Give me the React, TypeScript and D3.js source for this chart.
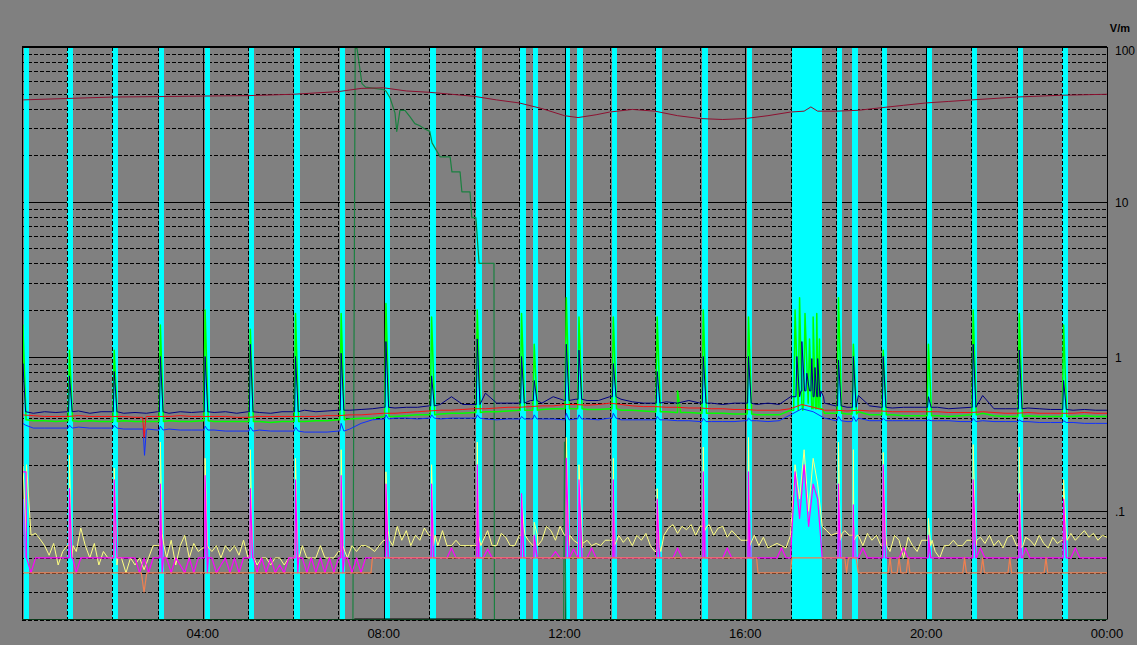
import React from 'react';
import * as d3 from 'd3';

// ---------------- DATA ----------------
// time in hours (0..24), field strength in V/m (log scale)
const yTickValues = [100, 10, 1, 0.1];
const yTickLabels = ['100', '10', '1', '.1'];
const xTickHours = [4, 8, 12, 16, 20, 24];
const xTickLabels = ['04:00', '08:00', '12:00', '16:00', '20:00', '00:00'];
const unitLabel = 'V/m';

// cyan event intervals [start, end] in hours
const cyanIntervals: [number, number][] = [
  [0.04, 0.155], [0.99, 1.13], [1.99, 2.12], [3.03, 3.14], [4.04, 4.16], [5.02, 5.13],
  [6.02, 6.15], [7.03, 7.14], [8.01, 8.14], [9.02, 9.16], [10.04, 10.17], [11.02, 11.15],
  [11.3, 11.41], [12.01, 12.12], [12.28, 12.41], [13.05, 13.16], [14.02, 14.16], [15.04, 15.17],
  [16.04, 16.15], [17.03, 17.7], [18.03, 18.14], [18.36, 18.49], [19.02, 19.13], [20.02, 20.13],
  [21.01, 21.12], [22.03, 22.14], [23.0, 23.14],
];

// hourly event times and peaks per series
const eventTimes = [0.02, 1.05, 2.04, 3.06, 4.05, 5.05, 6.05, 7.06, 8.05, 9.06, 10.07, 11.05, 11.33,
  12.04, 12.32, 13.08, 14.05, 15.07, 16.07, 18.06, 18.39, 19.05, 20.05, 21.04, 22.06, 23.04];
const greenPeaks = [1.6, 1.1, 1.1, 1.6, 2.0, 1.5, 1.9, 1.9, 2.2, 1.8, 2.0, 1.9, 1.2,
  2.4, 1.8, 1.8, 1.8, 2.0, 1.8, 2.4, 1.2, 1.1, 1.2, 2.0, 1.9, 1.6];
const navyPeaks = [0.9, 0.75, 0.8, 1.0, 1.0, 1.2, 1.0, 1.05, 1.25, 0.75, 1.3, 1.0, 0.7,
  1.2, 1.1, 0.9, 0.8, 1.0, 1.0, 0.95, 1.0, 1.0, 0.55, 1.2, 1.1, 0.7];
const blueBumps = [0.37, 0.36, 0.36, 0.355, 0.355, 0.35, 0.35, 0.37, 0.42, 0.42, 0.42, 0.41, 0.42,
  0.43, 0.42, 0.43, 0.41, 0.4, 0.4, 0.41, 0.41, 0.4, 0.39, 0.4, 0.39, 0.385];
const yellowPeaks = [0.2, 0.23, 0.19, 0.28, 0.22, 0.25, 0.22, 0.25, 0.18, 0.2, 0.28, 0.13, 0.085,
  0.3, 0.2, 0.22, 0.14, 0.26, 0.3, 0.28, 0.25, 0.24, 0.09, 0.27, 0.26, 0.16];
const magentaPeaks = [0.18, 0.14, 0.16, 0.15, 0.17, 0.14, 0.16, 0.17, 0.15, 0.15, 0.2, 0.13, 0.07,
  0.22, 0.16, 0.16, 0.12, 0.18, 0.18, 0.15, 0.11, 0.2, 0.07, 0.16, 0.13, 0.12];
const violetPeaks = [0.12, 0.1, 0.11, 0.1, 0.12, 0.1, 0.11, 0.12, 0.1, 0.11, 0.12, 0.09, 0.06,
  0.13, 0.11, 0.1, 0.09, 0.12, 0.12, 0.11, 0.08, 0.12, 0.06, 0.11, 0.1, 0.09];

// burst 17:00-17:40
const greenBurst: [number, number][] = [[17.1, 2.0], [17.2, 2.4], [17.32, 1.9], [17.42, 1.3], [17.5, 1.8], [17.58, 1.9], [17.64, 1.3], [14.5, 0.6]];
const navyBurst: [number, number][] = [[17.14, 1.0], [17.25, 1.25], [17.36, 0.78], [17.47, 0.97], [17.54, 0.85], [17.6, 0.97], [17.67, 0.6]];
const redDips: [number, number][] = [[2.7, 0.3]];
const blueDips: [number, number][] = [[2.71, 0.23]];

// quarter-hour baselines (97 values, 0..24 h)
const navyGrid = [
  0.44, 0.43, 0.44, 0.435, 0.44, 0.445, 0.43, 0.44, 0.44, 0.43, 0.435, 0.43,
  0.44, 0.43, 0.44, 0.435, 0.44, 0.435, 0.44, 0.43, 0.44, 0.435, 0.43, 0.44,
  0.44, 0.45, 0.44, 0.445, 0.45, 0.45, 0.455, 0.46, 0.47, 0.465, 0.47, 0.47,
  0.48, 0.49, 0.55, 0.49, 0.49, 0.58, 0.5, 0.5, 0.5, 0.52, 0.5, 0.55,
  0.52, 0.53, 0.52, 0.52, 0.55, 0.53, 0.51, 0.5, 0.5, 0.51, 0.5, 0.52,
  0.5, 0.5, 0.49, 0.5, 0.5, 0.49, 0.5, 0.49, 0.55, 0.6, 0.55, 0.5,
  0.48, 0.47, 0.56, 0.48, 0.47, 0.465, 0.47, 0.47, 0.47, 0.47, 0.46, 0.465,
  0.47, 0.56, 0.46, 0.46, 0.46, 0.465, 0.46, 0.455, 0.455, 0.45, 0.455, 0.45,
  0.45,
];
const redGrid = [
  0.42, 0.415, 0.41, 0.41, 0.41, 0.415, 0.41, 0.41, 0.41, 0.41, 0.405, 0.41,
  0.41, 0.41, 0.415, 0.41, 0.41, 0.41, 0.41, 0.405, 0.405, 0.41, 0.41, 0.41,
  0.41, 0.41, 0.41, 0.415, 0.415, 0.42, 0.42, 0.425, 0.43, 0.43, 0.435, 0.44,
  0.445, 0.45, 0.45, 0.455, 0.46, 0.46, 0.465, 0.47, 0.47, 0.475, 0.48, 0.48,
  0.49, 0.49, 0.485, 0.49, 0.5, 0.49, 0.48, 0.475, 0.475, 0.47, 0.47, 0.465,
  0.465, 0.46, 0.46, 0.455, 0.455, 0.45, 0.45, 0.45, 0.46, 0.49, 0.47, 0.45,
  0.45, 0.445, 0.45, 0.445, 0.445, 0.44, 0.44, 0.44, 0.44, 0.44, 0.435, 0.435,
  0.435, 0.44, 0.435, 0.43, 0.43, 0.435, 0.43, 0.43, 0.43, 0.43, 0.435, 0.43,
  0.43,
];
const greenGrid = [
  0.39, 0.385, 0.385, 0.38, 0.385, 0.38, 0.385, 0.38, 0.38, 0.385, 0.38, 0.38,
  0.38, 0.385, 0.38, 0.38, 0.385, 0.38, 0.38, 0.38, 0.38, 0.38, 0.375, 0.38,
  0.38, 0.38, 0.385, 0.385, 0.39, 0.395, 0.4, 0.4, 0.41, 0.41, 0.415, 0.42,
  0.42, 0.425, 0.43, 0.43, 0.435, 0.44, 0.44, 0.445, 0.45, 0.45, 0.455, 0.46,
  0.46, 0.46, 0.455, 0.455, 0.46, 0.45, 0.45, 0.445, 0.44, 0.44, 0.435, 0.435,
  0.43, 0.43, 0.43, 0.425, 0.425, 0.42, 0.42, 0.42, 0.45, 0.5, 0.46, 0.43,
  0.43, 0.425, 0.44, 0.42, 0.42, 0.42, 0.415, 0.415, 0.415, 0.415, 0.41, 0.415,
  0.42, 0.43, 0.415, 0.41, 0.41, 0.415, 0.41, 0.41, 0.41, 0.41, 0.415, 0.41,
  0.41,
];
const blueGrid = [
  0.36, 0.345, 0.345, 0.345, 0.345, 0.35, 0.345, 0.345, 0.345, 0.34, 0.34, 0.335,
  0.335, 0.34, 0.335, 0.335, 0.335, 0.335, 0.33, 0.33, 0.33, 0.335, 0.33, 0.33,
  0.33, 0.325, 0.325, 0.325, 0.33, 0.34, 0.37, 0.39, 0.395, 0.4, 0.4, 0.395,
  0.4, 0.395, 0.4, 0.4, 0.4, 0.395, 0.39, 0.395, 0.395, 0.395, 0.395, 0.395,
  0.39, 0.395, 0.395, 0.39, 0.4, 0.39, 0.39, 0.39, 0.39, 0.39, 0.385, 0.385,
  0.38, 0.38, 0.38, 0.38, 0.385, 0.385, 0.38, 0.385, 0.42, 0.46, 0.44, 0.4,
  0.385, 0.38, 0.4, 0.385, 0.385, 0.385, 0.385, 0.385, 0.385, 0.385, 0.385, 0.38,
  0.38, 0.385, 0.38, 0.38, 0.38, 0.38, 0.375, 0.375, 0.375, 0.375, 0.37, 0.37,
  0.37,
];

// six-minute baselines (241 values)
const yellowGrid = [
  0.2, 0.066, 0.07, 0.072, 0.066, 0.06, 0.052, 0.062, 0.045, 0.055,
  0.06, 0.05, 0.055, 0.078, 0.06, 0.05, 0.062, 0.045, 0.055, 0.05,
  0.05, 0.045, 0.05, 0.04, 0.05, 0.045, 0.05, 0.042, 0.05, 0.06,
  0.06, 0.072, 0.05, 0.065, 0.045, 0.06, 0.07, 0.05, 0.062, 0.055,
  0.058, 0.06, 0.055, 0.06, 0.05, 0.06, 0.055, 0.06, 0.052, 0.065,
  0.05, 0.05, 0.045, 0.05, 0.05, 0.045, 0.05, 0.05, 0.045, 0.05,
  0.05, 0.05, 0.06, 0.05, 0.05, 0.05, 0.06, 0.05, 0.05, 0.05,
  0.055, 0.06, 0.05, 0.06, 0.055, 0.06, 0.06, 0.058, 0.055, 0.06,
  0.065, 0.075, 0.06, 0.08, 0.065, 0.075, 0.06, 0.07, 0.065, 0.078,
  0.07, 0.06, 0.06, 0.075, 0.06, 0.06, 0.065, 0.06, 0.06, 0.06,
  0.06, 0.07, 0.065, 0.075, 0.06, 0.06, 0.072, 0.068, 0.06, 0.06,
  0.07, 0.08, 0.065, 0.06, 0.07, 0.065, 0.08, 0.075, 0.065, 0.08,
  0.07, 0.06, 0.065, 0.062, 0.058, 0.065, 0.06, 0.062, 0.06, 0.065,
  0.065, 0.06, 0.07, 0.063, 0.068, 0.06, 0.07, 0.065, 0.072, 0.06,
  0.055, 0.06, 0.07, 0.078, 0.082, 0.072, 0.08, 0.076, 0.082, 0.07,
  0.08, 0.075, 0.082, 0.07, 0.078, 0.08, 0.068, 0.075, 0.07, 0.065,
  0.065, 0.06, 0.07, 0.06, 0.068, 0.058, 0.06, 0.062, 0.06, 0.058,
  0.07, 0.2, 0.12, 0.25, 0.1, 0.22, 0.15, 0.08, 0.075, 0.07,
  0.072, 0.065, 0.075, 0.07, 0.065, 0.07, 0.06, 0.072, 0.065, 0.07,
  0.06, 0.072, 0.055, 0.07, 0.065, 0.05, 0.068, 0.06, 0.055, 0.065,
  0.065, 0.06, 0.055, 0.05, 0.06, 0.06, 0.065, 0.06, 0.06, 0.065,
  0.065, 0.06, 0.068, 0.062, 0.07, 0.06, 0.065, 0.058, 0.068, 0.07,
  0.06, 0.058, 0.068, 0.065, 0.06, 0.07, 0.062, 0.058, 0.068, 0.062,
  0.065, 0.07, 0.072, 0.065, 0.07, 0.075, 0.068, 0.072, 0.065, 0.07,
  0.068,
];
const magentaGrid = [
  0.18, 0.05, 0.04, 0.05, 0.05, 0.05, 0.05, 0.05, 0.05, 0.05,
  0.05, 0.05, 0.04, 0.05, 0.05, 0.05, 0.05, 0.05, 0.05, 0.05,
  0.05, 0.05, 0.05, 0.05, 0.05, 0.05, 0.04, 0.05, 0.04, 0.05,
  0.05, 0.04, 0.05, 0.04, 0.05, 0.045, 0.04, 0.05, 0.04, 0.05,
  0.05, 0.04, 0.05, 0.04, 0.045, 0.05, 0.04, 0.05, 0.04, 0.05,
  0.05, 0.05, 0.04, 0.05, 0.04, 0.05, 0.04, 0.045, 0.04, 0.05,
  0.05, 0.04, 0.05, 0.04, 0.05, 0.04, 0.05, 0.04, 0.05, 0.04,
  0.05, 0.04, 0.05, 0.04, 0.05, 0.04, 0.05, 0.05, 0.05, 0.05,
  0.05, 0.05, 0.05, 0.05, 0.05, 0.05, 0.05, 0.05, 0.05, 0.05,
  0.05, 0.05, 0.05, 0.05, 0.05, 0.058, 0.05, 0.05, 0.05, 0.05,
  0.05, 0.05, 0.05, 0.057, 0.05, 0.05, 0.05, 0.05, 0.05, 0.05,
  0.05, 0.05, 0.05, 0.05, 0.05, 0.05, 0.05, 0.05, 0.055, 0.05,
  0.05, 0.05, 0.057, 0.05, 0.05, 0.05, 0.058, 0.05, 0.05, 0.05,
  0.05, 0.05, 0.05, 0.05, 0.05, 0.05, 0.05, 0.05, 0.05, 0.05,
  0.05, 0.05, 0.05, 0.05, 0.05, 0.058, 0.05, 0.05, 0.05, 0.05,
  0.05, 0.05, 0.05, 0.05, 0.05, 0.05, 0.058, 0.05, 0.05, 0.05,
  0.05, 0.05, 0.05, 0.05, 0.05, 0.05, 0.05, 0.05, 0.058, 0.05,
  0.05, 0.18, 0.09, 0.2, 0.08, 0.15, 0.12, 0.05, 0.05, 0.05,
  0.05, 0.05, 0.05, 0.05, 0.05, 0.05, 0.058, 0.05, 0.05, 0.05,
  0.05, 0.05, 0.05, 0.05, 0.05, 0.058, 0.05, 0.05, 0.05, 0.05,
  0.05, 0.05, 0.05, 0.05, 0.05, 0.05, 0.05, 0.05, 0.05, 0.05,
  0.05, 0.05, 0.058, 0.05, 0.05, 0.05, 0.05, 0.05, 0.05, 0.05,
  0.05, 0.05, 0.058, 0.05, 0.05, 0.05, 0.05, 0.05, 0.05, 0.05,
  0.05, 0.05, 0.05, 0.058, 0.05, 0.05, 0.05, 0.05, 0.05, 0.05,
  0.05,
];

// piecewise series as [hour, value]
const orangePoints: [number, number][] = [
  [0, 0.04], [2.64, 0.04], [2.7, 0.03], [2.76, 0.04], [7.72, 0.04], [7.75, 0.05],
  [16.25, 0.05], [16.28, 0.04], [17.0, 0.04], [17.03, 0.05], [18.2, 0.05], [18.24, 0.04],
  [18.28, 0.05], [18.45, 0.05], [18.5, 0.04], [19.16, 0.04], [19.2, 0.05], [19.24, 0.04],
  [19.36, 0.04], [19.4, 0.05], [19.44, 0.04], [19.56, 0.04], [19.6, 0.05], [19.64, 0.04],
  [20.81, 0.04], [20.85, 0.05], [20.89, 0.04], [21.21, 0.04], [21.25, 0.05], [21.29, 0.04],
  [21.81, 0.04], [21.85, 0.05], [21.89, 0.04], [22.61, 0.04], [22.65, 0.05], [22.69, 0.04],
  [24, 0.04],
];
const maroonPoints: [number, number][] = [
  [0, 45.5], [1, 46.5], [2, 47.5], [3, 47.8], [4, 48.2], [5, 48.5], [6, 49.5], [7, 51.5],
  [7.5, 54], [8, 54.5], [8.5, 52], [9, 51], [9.5, 49.5], [10, 48], [10.5, 45.5], [11, 43.5],
  [11.5, 40], [12, 36], [12.3, 35], [12.7, 36.5], [13, 38], [13.5, 39.5], [14, 38.5],
  [14.5, 36], [15, 34.5], [15.5, 34], [16, 34.5], [16.5, 36], [17, 38], [17.3, 38.5],
  [17.45, 41], [17.6, 38.5], [18, 38.5], [18.5, 39], [19, 40.5], [19.5, 42], [20, 43.5],
  [20.5, 44.5], [21, 45.5], [22, 47.5], [23, 48.8], [24, 49.5],
];
// dark green: below range (0.01) except the morning excursion
const darkGreenPoints: [number, number][] = [
  [0, 0.01], [7.32, 0.01], [7.37, 98], [7.41, 98], [7.52, 58], [7.6, 55], [8.0, 53],
  [8.05, 52], [8.14, 47], [8.25, 37.5], [8.29, 28.5], [8.36, 39], [8.47, 39], [8.58, 35.5],
  [8.69, 32], [8.8, 31], [8.91, 29.5], [9.02, 28.5], [9.07, 24], [9.25, 19.5], [9.47, 19.5],
  [9.51, 15.6], [9.69, 15.6], [9.73, 11.6], [9.91, 11.6], [9.95, 7.9], [10.04, 7.9],
  [10.11, 4], [10.44, 4], [10.45, 0.01], [11.98, 0.01], [12.0, 0.28], [12.03, 0.01], [24, 0.01],
];
const blackFloorPoints: [number, number][] = [[7.35, 0.01], [10.1, 0.01]];

// ---------------- LAYOUT ----------------
const W = 1137, H = 645;
const PL = 22, PR = 1107, PT = 47, PB = 619.5;
const FONT = '"Liberation Sans", Arial, sans-serif';

const x = d3.scaleLinear().domain([0, 24]).range([PL, PR]);
const y = d3.scaleLog().domain([0.02, 100]).range([PB, PT]).clamp(true);

function withEvents(grid: number[], step: number, events: [number, number][], pre: number, post: number): [number, number][] {
  const pts: [number, number][] = grid.map((v, i) => [i * step, v]);
  events.forEach(([t, v]) => {
    const b = grid[Math.min(grid.length - 1, Math.floor(t / step + 1e-9))];
    pts.push([t - pre, b], [t, v], [t + post, b]);
  });
  return pts.sort((a, b) => a[0] - b[0]);
}
const zipEvents = (peaks: number[]): [number, number][] => eventTimes.map((t, i) => [t, peaks[i]]);

const line = d3.line<[number, number]>().x(d => x(d[0])).y(d => y(d[1]));

export default function App() {
  const minorVals: number[] = [];
  [0.01, 0.1, 1, 10].forEach(dec => {
    for (let m = 2; m <= 9; m++) {
      const v = m * dec;
      if (v >= 0.02 && v < 100) minorVals.push(v);
    }
  });
  const majorVals = [0.1, 1, 10];
  const hours = d3.range(1, 24);

  const series: { pts: [number, number][]; color: string; w: number }[] = [
    { pts: darkGreenPoints, color: '#1a8040', w: 1.2 },
    { pts: blackFloorPoints, color: '#000000', w: 2 },
    { pts: maroonPoints, color: '#8c1030', w: 1 },
    { pts: withEvents(greenGrid, 0.25, [...zipEvents(greenPeaks), ...greenBurst], 0.03, 0.07), color: '#00ff00', w: 1.5 },
    { pts: withEvents(blueGrid, 0.25, [...zipEvents(blueBumps), ...blueDips], 0.03, 0.06), color: '#1030ff', w: 1 },
    { pts: withEvents(redGrid, 0.25, redDips, 0.03, 0.04), color: '#ff1010', w: 1 },
    { pts: withEvents(navyGrid, 0.25, [...zipEvents(navyPeaks), ...navyBurst], 0.02, 0.06), color: '#000080', w: 1 },
    { pts: withEvents(yellowGrid, 0.1, zipEvents(yellowPeaks), 0.01, 0.08), color: '#ffff80', w: 1 },
    { pts: withEvents(magentaGrid, 0.1, zipEvents(magentaPeaks), 0.01, 0.07), color: '#ff00ff', w: 1.2 },
    { pts: orangePoints, color: '#f08050', w: 1.2 },
  ];

  return (
    <svg width={W} height={H} style={{ position: 'absolute', left: 0, top: 0 }} fontFamily={FONT}>
      <defs>
        <clipPath id="plotClip">
          <rect x={PL} y={PT} width={PR - PL} height={PB - PT + 1} />
        </clipPath>
      </defs>
      <rect x={0} y={0} width={W} height={H} fill="#808080" />
      {/* horizontal grid */}
      {minorVals.map(v => (
        <line key={'mi' + v} x1={PL} x2={PR} y1={Math.round(y(v)) + 0.5} y2={Math.round(y(v)) + 0.5}
          stroke="#000" strokeWidth={1} strokeDasharray="4 2" />
      ))}
      {majorVals.map(v => (
        <line key={'ma' + v} x1={PL} x2={PR} y1={Math.round(y(v)) + 0.5} y2={Math.round(y(v)) + 0.5}
          stroke="#000" strokeWidth={1} />
      ))}
      {/* cyan bars */}
      {cyanIntervals.map(([a, b], i) => (
        <rect key={'c' + i} x={Math.round(x(a))} y={PT} width={Math.max(5, Math.round(x(b) - x(a)))} height={PB - PT}
          fill="#00ffff" shapeRendering="crispEdges" />
      ))}
      {/* vertical grid */}
      {hours.map(h => (
        <line key={'v' + h} x1={Math.round(x(h)) + 0.5} x2={Math.round(x(h)) + 0.5} y1={PT} y2={PB}
          stroke="#000" strokeWidth={1} strokeDasharray={h % 4 === 0 ? undefined : '4 2'} />
      ))}
      {/* series */}
      <g clipPath="url(#plotClip)">
        {eventTimes.map((t, i) => (
          <path key={'vi' + i} d={line([[t - 0.01, 0.05], [t + 0.01, violetPeaks[i]], [t + 0.06, 0.05]]) || ''}
            fill="none" stroke="#9070ff" strokeWidth={1.5} />
        ))}
        {series.map((s, i) => (
          <path key={'s' + i} d={line(s.pts) || ''} fill="none" stroke={s.color} strokeWidth={s.w}
            strokeLinejoin="round" />
        ))}
      </g>
      {/* frame */}
      <line x1={PL} x2={PR} y1={PT} y2={PT} stroke="#000" strokeWidth={2} />
      <line x1={PL + 0.5} x2={PL + 0.5} y1={PT} y2={PB} stroke="#000" strokeWidth={1} />
      <line x1={PR + 0.5} x2={PR + 0.5} y1={PT} y2={PB} stroke="#000" strokeWidth={1} />
      <line x1={PL} x2={PR} y1={PB} y2={PB} stroke="#0a3a1a" strokeWidth={1} />
      {/* labels */}
      <text x={1130} y={32} textAnchor="end" fontSize={11} fontWeight="bold" fill="#000">{unitLabel}</text>
      {yTickValues.map((v, i) => (
        <text key={'yl' + i} x={1115} y={y(v) + (i === 0 ? 8 : 5)} fontSize={12} fill="#000">{yTickLabels[i]}</text>
      ))}
      {xTickHours.map((h, i) => (
        <text key={'xl' + i} x={x(h)} y={638} textAnchor="middle" fontSize={13} fill="#000">{xTickLabels[i]}</text>
      ))}
    </svg>
  );
}
